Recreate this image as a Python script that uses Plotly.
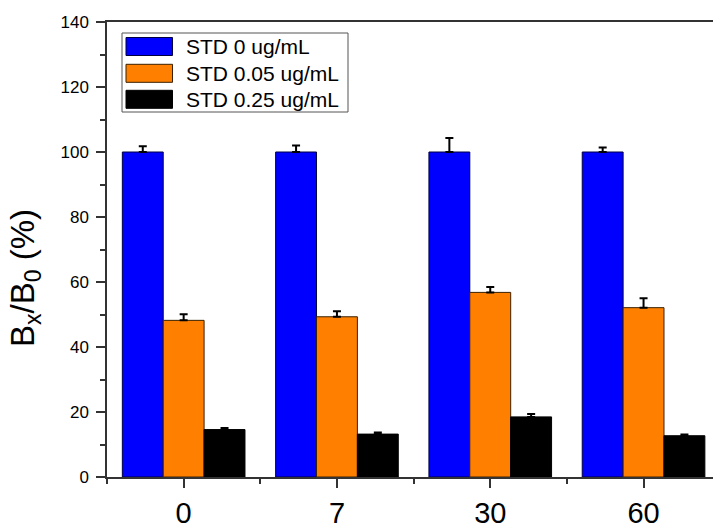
import plotly.graph_objects as go

categories = ["0", "7", "30", "60"]
series_names = ["STD 0 ug/mL", "STD 0.05 ug/mL", "STD 0.25 ug/mL"]
std_0 = [100, 100, 100, 100]
std_0_err = [1.8, 2.0, 4.3, 1.4]
std_005 = [48.2, 49.3, 56.8, 52.1]
std_005_err = [1.9, 1.7, 1.7, 2.9]
std_025 = [14.6, 13.2, 18.5, 12.7]
std_025_err = [0.5, 0.5, 0.9, 0.4]

colors = ["#0000FF", "#FF8000", "#000000"]
outline = ["#000040", "#3a2000", "#000000"]
values = [std_0, std_005, std_025]
errors = [std_0_err, std_005_err, std_025_err]

FONT = "Liberation Sans, Arial, sans-serif"
xpos = list(range(len(categories)))

fig = go.Figure()
for name, vals, errs, c, oc in zip(series_names, values, errors, colors, outline):
    fig.add_trace(go.Bar(
        x=xpos, y=vals, name=name,
        marker=dict(color=c, line=dict(color=oc, width=1)),
        error_y=dict(type="data", array=errs, arrayminus=[0] * len(errs),
                     symmetric=False, color="black", thickness=2, width=4),
        showlegend=False,
    ))

# custom legend (wide swatches like the original)
L, R, T, B = 107, 713, 22, 477
def px(x):
    return (x - L) / (R - L)
def py(y):
    return (B - y) / (B - T)

fig.add_shape(type="rect", xref="paper", yref="paper",
              x0=px(122), x1=px(348), y0=py(33), y1=py(112),
              line=dict(color="#555555", width=1), fillcolor="white", layer="above")
row_top = [37.5, 64.3, 90.3]
for i, (name, c, oc) in enumerate(zip(series_names, colors, outline)):
    y0 = row_top[i]
    fig.add_shape(type="rect", xref="paper", yref="paper",
                  x0=px(126), x1=px(172.5), y0=py(y0), y1=py(y0 + 18),
                  line=dict(color=oc, width=1), fillcolor=c, layer="above")
    fig.add_annotation(xref="paper", yref="paper", x=px(184), y=py(y0 + 9),
                       text=name, showarrow=False, xanchor="left", yanchor="middle",
                       font=dict(family=FONT, size=21, color="black"))

fig.add_annotation(xref="paper", yref="paper", x=px(25), y=py(278),
                   text="B<sub>x</sub>/B<sub>0</sub> (%)", textangle=-90,
                   showarrow=False, xanchor="center", yanchor="middle",
                   font=dict(family=FONT, size=33, color="black"))

fig.update_layout(
    width=713, height=527,
    margin=dict(l=L, r=0, t=T, b=527 - B),
    paper_bgcolor="white", plot_bgcolor="white",
    barmode="group", bargap=0.2, bargroupgap=0,
    font=dict(family=FONT, color="black"),
)
fig.update_xaxes(
    range=[-0.5, -0.5 + (R - L) / 153.3],
    tickvals=xpos, ticktext=categories,
    tickfont=dict(family=FONT, size=29, color="black"),
    showline=True, linecolor="#333333", linewidth=1.5, mirror=True,
    ticks="outside", ticklen=9, tickwidth=1.5, tickcolor="#333333",
    minor=dict(tickvals=[i - 0.5 for i in range(len(categories) + 1)],
               ticks="outside", ticklen=5, tickwidth=1.5, tickcolor="#333333"),
    showgrid=False, zeroline=False, ticklabelstandoff=0, automargin=False,
)
fig.update_yaxes(
    range=[0, 140], dtick=20, tick0=0,
    tickfont=dict(family=FONT, size=17, color="black"),
    showline=True, linecolor="#333333", linewidth=1.5,
    ticks="outside", ticklen=9, tickwidth=1.5, tickcolor="#333333",
    minor=dict(dtick=10, ticks="outside", ticklen=5, tickwidth=1.5, tickcolor="#333333"),
    showgrid=False, zeroline=False, ticklabelstandoff=4, automargin=False,
)

fig.write_html("out.html")
